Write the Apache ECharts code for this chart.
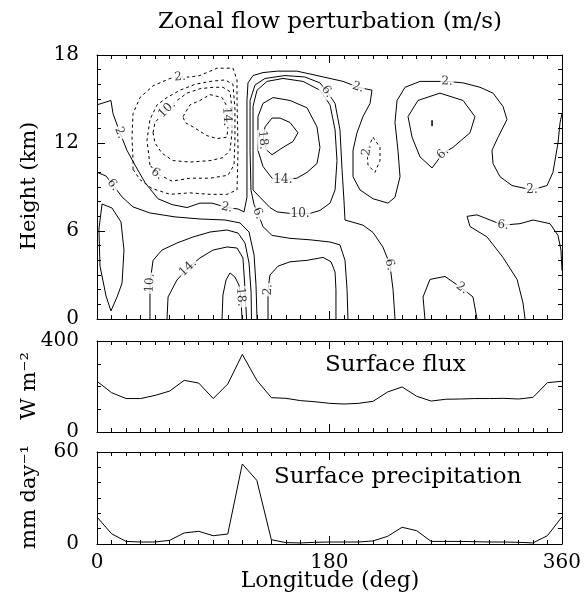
<!DOCTYPE html>
<html><head><meta charset="utf-8">
<script src="https://cdn.jsdelivr.net/npm/echarts@6/dist/echarts.min.js"></script>
<style>html,body{margin:0;padding:0;background:#fff}#c{width:584px;height:597px}</style>
</head><body><div id="c"></div>
<script>
// ---------------- data ----------------
const longitudes = [0,11.25,22.5,33.75,45,56.25,67.5,78.75,90,101.25,112.5,123.75,135,146.25,157.5,168.75,180,
  191.25,202.5,213.75,225,236.25,247.5,258.75,270,281.25,292.5,303.75,315,326.25,337.5,348.75,360];
const surfaceFlux = [223,173,147,147,161,180,227,215,147,211,341,227,151,148,138,133,126,123,126,135,176,198,157,136,144,145,147,147,148,145,152,217,223];
const surfacePrecip = [17.6,6.7,1.7,1.3,1.3,2.4,7.2,8.3,5.4,6.5,52.2,41.5,2.8,0.9,0.7,1.1,1.3,1.3,1.3,2.0,5.0,10.9,8.7,1.7,1.7,1.7,1.5,1.3,1.3,1.1,0.7,5.4,17.6];

// contour paths of zonal wind perturbation (m/s): [longitude (deg), height (km)]
const contourPos2 = [[0,14.6],[10.8,14.9],[12.4,14.0],[17.8,12.7],[23.2,11.5],[29.4,10.5],[37.2,9.3],[47.2,8.2],[58.1,7.8],[69.7,7.6],[79.7,7.9],[89,7.9],[100.6,7.6],[109.2,7.5],[113.8,7.3],[116.1,8.3],[116.1,11.5],[116.1,14.9],[116.9,16.1],[120.8,16.6],[128.5,16.8],[139.4,16.9],[154.8,16.9],[170.3,16.6],[180.4,16.4],[190.5,16.2],[202.1,15.8],[212.9,15.6],[211.4,14.7],[205.9,13.8],[201.3,12.7],[198.2,11.5],[198.2,9.7],[203.6,8.8],[213.7,8.2],[225.3,7.9],[230.7,8.3],[234.6,9.7],[233,11.5],[230.7,13.4],[232.3,14.9],[238.5,15.8],[250.1,16.2],[271,16.2],[283.4,16.1],[296.5,15.8],[306.6,15.4],[314.3,14.5],[317.4,13.6],[310.5,12.4],[305.8,11.5],[306.6,10.6],[312,9.7],[321.3,9.1],[336.8,8.8],[348.4,9.1],[353,10],[356.9,12],[358.5,13.4],[360,14]];
const contourNeg2 = [[27.9,10.2],[33.3,9.5],[42.6,8.9],[56.5,8.5],[72,8.6],[87.5,8.5],[100.6,8.5],[108.4,8.8],[109.2,11.5],[108.4,14.9],[108.4,16.3],[105.3,17.1],[92.9,17.1],[79.7,16.6],[72,16.5],[64.3,16.5],[56.5,16.4],[43.4,15.9],[33.3,15.1],[27.9,14],[27.1,12.4],[27.9,10.8],[27.9,10.2]];
const contourNeg6 = [[41,10.5],[38.7,12.2],[41,13.6],[46.5,14.6],[54.2,15.1],[64.3,15.6],[75.9,16],[87.5,16.2],[99.1,16.3],[105.3,16],[106.8,14.3],[106.8,12.2],[106.1,10.5],[101.4,9.8],[87.5,9.6],[72,9.6],[58.1,9.4],[46.5,9.9],[41,10.5]];
const contourNeg10 = [[43.4,12.7],[44.9,13.4],[54.2,14.3],[61.9,14.9],[69.7,15.4],[79.7,15.7],[89.8,15.8],[97.5,15.8],[103,15.5],[104.5,14.3],[104.5,12.7],[103,11.5],[97.5,11],[87.5,10.8],[72,10.7],[58.8,10.8],[50.3,11.3],[44.9,12],[43.4,12.7]];
const contourNeg14 = [[66.6,13.8],[72,14.6],[79.7,14.9],[87.5,15.3],[96.8,15.1],[100.6,14.5],[100.6,13.8],[101.4,13.1],[100.6,12.4],[92.9,12.3],[85.2,12.5],[74.3,13.1],[68.1,13.4],[66.6,13.8]];
const contourPos18Top = [[135.5,13.7],[141.7,13.7],[149.4,13.4],[155.6,12.7],[151.7,12.1],[144,11.7],[135.5,11.2],[131.6,11.5],[128.5,12.2],[130.1,13.1],[135.5,13.7]];
const contourPos14Top = [[124.6,12],[124.6,13.8],[128.5,14.7],[136.3,15.1],[149.4,14.9],[162.6,14.4],[170.3,13.1],[172.6,11.7],[170.3,10.6],[162.6,10],[154.8,9.6],[144,9.5],[135.5,9.6],[128.5,10.4],[124.6,11.5],[124.6,12]];
const contourPos10Top = [[120.8,8.8],[120.8,11.5],[120.8,14.5],[123.9,15.6],[131.6,16.2],[144,16.4],[159.5,16.2],[172.6,15.6],[180.4,14.6],[184.3,12.9],[185.8,10.8],[184.3,8.8],[180.4,7.9],[172.6,7.4],[164.9,7.2],[157.2,7.2],[149.4,7.2],[139.4,7.3],[133.9,7.6],[126.2,8.3],[120.8,8.8]];
const contourPos6Mid = [[230.7,0],[229.2,2.0],[226.8,3.7],[221.4,4.9],[213.7,5.9],[205.9,6.4],[192,6.75],[191.2,8.1],[189.7,10.2],[188.1,12.9],[184.3,14.7],[178.1,15.5],[172.6,16.1],[161,16.5],[145.5,16.6],[130.1,16.4],[122.3,15.95],[118.5,14.9],[118.5,11.5],[119.2,8.8],[121.6,7.8],[124.6,7.2],[128.5,6.3],[135.5,5.7],[149.4,5.5],[164.9,5.4],[180.4,5.25],[188.1,5.05],[192,4.0],[193.6,2.0],[194.3,0]];
const contourPos2Low = [[132.4,0],[132.4,2.0],[133.9,3.0],[140.1,3.6],[149.4,3.9],[162.6,4.0],[175,4.2],[181.2,3.9],[184.3,3.2],[185,2.0],[185,0]];
const contourPos2Right = [[253.9,0],[252.4,1.5],[257.8,2.7],[269.4,2.9],[282.6,2.1],[291.1,1.5],[294.2,0]];
const contourPos6Right = [[331.4,0],[329.8,1.1],[325.2,2.7],[314.3,4.2],[301.9,5.6],[288.8,6.3],[286.5,7],[294.2,7.1],[304.3,6.75],[314.3,6.4],[327.5,6.5],[337.6,6.75],[350.7,6.5],[356.9,5.7],[359.2,4.7],[360,3.3]];
const contourPos6UpperRight = [[248.5,14.9],[265.5,15.4],[283.4,14.9],[292.6,13.8],[288.8,12.7],[275.6,11.7],[267.9,11.3],[259.4,10.3],[250.1,11.05],[243.9,12.4],[240.8,13.8],[248.5,14.9]];
const contourPos10UpperRight = [[259.4,13.55],[259.6,13.35],[259.4,13.15],[259.2,13.35],[259.4,13.55]];
const contourPos6LowLeft = [[0,10.0],[7,9.75],[12.4,9.14],[19.4,8.32],[27.9,7.64],[41,7.23],[60.4,6.96],[79.7,6.82],[99.1,6.75],[110.7,6.55],[117.7,5.93],[121.6,4.36],[123.1,2.3],[123.9,0]];
const contourPos6Edge = [[3.9,7.84],[1.5,6.14],[2.3,3.61],[7,1.57],[10.8,0.55],[15.5,1.5],[19.4,2.45],[20.9,4.7],[18.6,6.61],[11.6,7.57],[3.9,7.84]];
const contourPos10Low = [[41,0],[41,2.45],[43.4,4.0],[50.3,4.7],[61.9,5.18],[74.3,5.59],[87.5,5.93],[100.6,6.07],[109.2,5.86],[114.6,5.18],[117.7,3.82],[119.3,1.8],[119.6,0]];
const contourPos14Low = [[54.2,0],[55,1.5],[61.9,2.66],[70.5,3.48],[79.7,4.16],[89.8,4.7],[100.6,4.91],[108.4,4.84],[113,4.16],[114.3,2.45],[115.8,0]];
const contourPos18Low = [[96.8,0],[97.5,1.64],[99.9,2.66],[103,3.14],[106.8,2.86],[109.9,2.32],[111.4,1.5],[112.3,0]];
const contourNeg2Small = [[213.7,12.4],[219.1,11.7],[219.1,10.8],[215.2,10.0],[209.8,10.5],[209,11.5],[213.7,12.4]];

const contourList = [
  {level:2, path:contourPos2, labels:[3,12,26,43,54]},
  {level:-2, path:contourNeg2, labels:[15]},
  {level:-6, path:contourNeg6, labels:[17]},
  {level:-10, path:contourNeg10, labels:[2]},
  {level:-14, path:contourNeg14, labels:[6]},
  {level:18, path:contourPos18Top, labels:[8]},
  {level:14, path:contourPos14Top, labels:[11]},
  {level:10, path:contourPos10Top, labels:[15]},
  {level:6, path:contourPos6Mid, labels:[2,11,21]},
  {level:2, path:contourPos2Low, labels:[1]},
  {level:2, path:contourPos2Right, labels:[4]},
  {level:6, path:contourPos6Right, labels:[9]},
  {level:6, path:contourPos6UpperRight, labels:[6]},
  {level:10, path:contourPos10UpperRight, labels:[]},
  {level:6, path:contourPos6LowLeft, labels:[2]},
  {level:6, path:contourPos6Edge, labels:[]},
  {level:10, path:contourPos10Low, labels:[1]},
  {level:14, path:contourPos14Low, labels:[3]},
  {level:18, path:contourPos18Low, labels:[6]},
  {level:-2, path:contourNeg2Small, labels:[5]}
];

// ---------------- chart ----------------
const F = 'DejaVu Serif';
const chart = echarts.init(document.getElementById('c'), null, {renderer:'canvas'});
const grids = [
  {left:97, top:55, width:465, height:264},
  {left:97, top:341, width:465, height:91},
  {left:97, top:452, width:465, height:92}
];
function xAx(g, pos, lab){
  return {type:'value', gridIndex:g, position:pos, min:0, max:360, interval:180,
    axisLine:{show:true, onZero:false, lineStyle:{color:'#000', width:1}},
    axisTick:{show:true, inside:true, length:8, lineStyle:{color:'#000', width:1}},
    minorTick:{show:true, splitNumber:16, length:4, lineStyle:{color:'#000', width:1}},
    splitLine:{show:false}, minorSplitLine:{show:false},
    axisLabel:{show:lab, color:'#000', fontFamily:F, fontSize:20, margin:9}};
}
function yAx(g, pos, max, interval, split, lab){
  return {type:'value', gridIndex:g, position:pos, min:0, max:max, interval:interval,
    axisLine:{show:true, onZero:false, lineStyle:{color:'#000', width:1}},
    axisTick:{show:true, inside:true, length:8, lineStyle:{color:'#000', width:1}},
    minorTick:{show:true, splitNumber:split, length:4, lineStyle:{color:'#000', width:1}},
    splitLine:{show:false}, minorSplitLine:{show:false},
    axisLabel:{show:lab, color:'#000', fontFamily:F, fontSize:20, margin:18}};
}
const xAxes = [xAx(0,'bottom',false), xAx(0,'top',false), xAx(1,'bottom',false), xAx(1,'top',false),
  xAx(2,'bottom',true), xAx(2,'top',false)];
xAxes[4].axisLabel.formatter = v => (v % 180 === 0 ? String(v) : '');
const yAxes = [yAx(0,'left',18,6,6,true), yAx(0,'right',18,6,6,false),
  yAx(1,'left',400,400,4,true), yAx(1,'right',400,400,4,false),
  yAx(2,'left',60,60,6,true), yAx(2,'right',60,60,6,false)];

const series = [];
contourList.forEach(c => {
  series.push({type:'line', xAxisIndex:0, yAxisIndex:0, data:c.path, showSymbol:false, symbol:'none',
    silent:true, animation:false, z:2, clip:true,
    lineStyle:{color:'#000', width:1, type: c.level < 0 ? [3,3] : 'solid'}});
});
series.push({type:'line', xAxisIndex:2, yAxisIndex:2, data:longitudes.map((x,i)=>[x,surfaceFlux[i]]),
  showSymbol:false, symbol:'none', silent:true, animation:false, lineStyle:{color:'#000', width:1}});
series.push({type:'line', xAxisIndex:4, yAxisIndex:4, data:longitudes.map((x,i)=>[x,surfacePrecip[i]]),
  showSymbol:false, symbol:'none', silent:true, animation:false, lineStyle:{color:'#000', width:1}});

const T = (txt, x, y, size, rot, align) => ({type:'text', x:x, y:y, rotation:rot||0,
  style:{text:txt, fill:'#000', font:'normal '+size+'px "'+F+'"', textAlign:align||'center', textVerticalAlign:'middle'}});
const graphics = [
  T('Zonal flow perturbation (m/s)', 330, 22, 23),
  T('Height (km)', 30, 186, 21, Math.PI/2),
  T('W m\u207B\u00B2', 30, 386, 21, Math.PI/2),
  T('mm day\u207B\u00B9', 30, 497, 21, Math.PI/2),
  T('Longitude (deg)', 330, 581, 22),
  T('Surface flux', 325, 365, 23, 0, 'left'),
  T('Surface precipitation', 274, 477, 23, 0, 'left')
];

chart.setOption({animation:false, grid:grids, xAxis:xAxes, yAxis:yAxes, series:series, graphic:graphics});

// contour labels, rotated along the line
const labelData = [];
contourList.forEach(c => {
  c.labels.forEach(i => {
    const p = c.path[i];
    const a = chart.convertToPixel({xAxisIndex:0, yAxisIndex:0}, c.path[Math.max(0,i-1)]);
    const b = chart.convertToPixel({xAxisIndex:0, yAxisIndex:0}, c.path[Math.min(c.path.length-1,i+1)]);
    let ang = -Math.atan2(b[1]-a[1], b[0]-a[0]) * 180 / Math.PI;
    if (ang > 90) ang -= 180; if (ang < -90) ang += 180;
    labelData.push({value:p, label:{show:true, rotate:Math.round(ang), formatter: Math.abs(c.level) + '.'}});
  });
});
series.push({type:'scatter', xAxisIndex:0, yAxisIndex:0, data:labelData, symbolSize:0, silent:true, animation:false, z:5,
  label:{show:true, position:'inside', color:'#000', fontFamily:F, fontSize:12, backgroundColor:'#fff', padding:[0,1]}});
chart.setOption({series:series});
</script></body></html>
